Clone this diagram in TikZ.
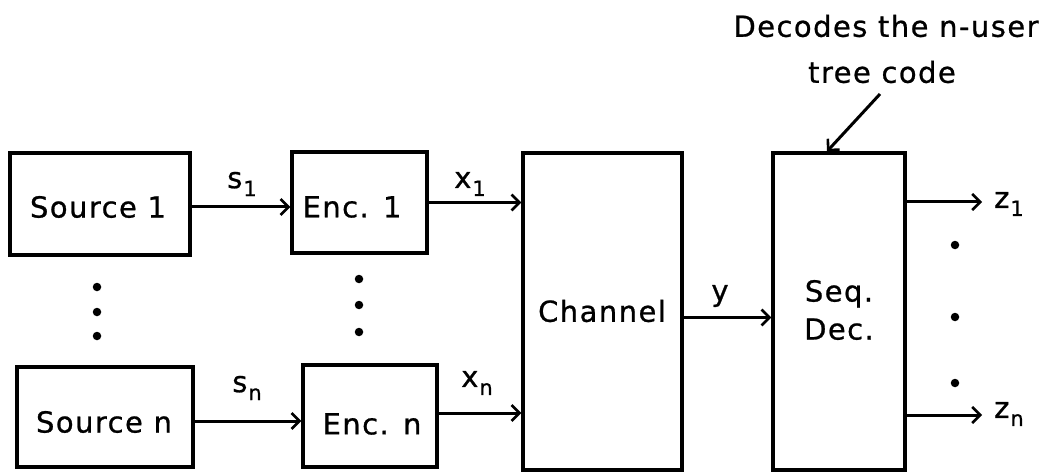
\documentclass[tikz,border=0pt]{standalone}
\usepackage{fontspec}
\setmainfont[LetterSpace=5,FakeBold=0.8]{DejaVu Sans}
\usetikzlibrary{arrows.meta}
\newcommand{\sbs}[1]{\hspace{1pt}\raisebox{-8pt}{\fontsize{21}{21}\selectfont #1}}
\begin{document}
\begin{tikzpicture}[x=1pt,y=-1pt,
  every node/.style={font=\fontsize{29}{32}\selectfont},
  blk/.style={draw, line width=3.2pt, inner sep=0pt},
  conn/.style={line width=3pt, -{Straight Barb[length=8pt,width=16pt,line width=2.6pt]}},
  lbl/.style={inner sep=0pt},
  dotm/.style={circle, fill, inner sep=0pt, minimum size=8.5pt}]
\useasboundingbox (0,0) rectangle (1044,473);
% blocks
\node[blk, minimum width=180pt, minimum height=102pt] (s1) at (100,204) {};
\node at (98,207) {Source 1};
\node[blk, minimum width=176pt, minimum height=100pt] (sn) at (105,417) {};
\node at (104,422) {Source n};
\node[blk, minimum width=135pt, minimum height=101pt] (e1) at (359.5,202.5) {};
\node at (352,207) {Enc. 1};
\node[blk, minimum width=134pt, minimum height=102pt] (en) at (370,416) {};
\node at (372,424) {Enc. n};
\node[blk, minimum width=159pt, minimum height=317pt] (ch) at (602.5,311.5) {};
\node at (602,311) {Channel};
\node[blk, minimum width=132pt, minimum height=317pt] (sd) at (839,311.5) {};
\node[align=center] at (839,310) {Seq.\\[6pt]Dec.};
% dots
\node[dotm] (d1) at (97,287) {};
\node[dotm] (d2) at (97,312) {};
\node[dotm] (d3) at (97,336) {};
\node[dotm] (d4) at (359,279) {};
\node[dotm] (d5) at (359,305) {};
\node[dotm] (d6) at (359,332) {};
\node[dotm] (d7) at (955,245) {};
\node[dotm] (d8) at (955,317) {};
\node[dotm] (d9) at (955,383) {};
% connectors
\draw[conn] ([yshift=-3pt]s1.east) -- ([yshift=-3pt]s1.east -| e1.west);
\draw[conn] ([yshift=-4pt]sn.east) -- ([yshift=-4pt]sn.east -| en.west);
\draw[conn] (e1.east) -- (e1.east -| ch.west);
\draw[conn] ([yshift=3pt]en.east) -- ([yshift=3pt]en.east -| ch.west);
\draw[conn] ([yshift=-6pt]ch.east) -- ([yshift=-6pt]ch.east -| sd.west);
\coordinate (z1e) at (982,202);
\coordinate (zne) at (982,415);
\draw[conn] (sd.east |- z1e) -- (z1e);
\draw[conn] (sd.east |- zne) -- (zne);
% labels
\node[lbl] (ls1) at (242,184) {s\sbs{1}};
\node[lbl] (lsn) at (247,388) {s\sbs{n}};
\node[lbl] (lx1) at (470,184) {x\sbs{1}};
\node[lbl] (lxn) at (477,383) {x\sbs{n}};
\node[lbl] (ly) at (720,296) {y};
\node[lbl, anchor=west] (lz1) at (994,204) {z\sbs{1}};
\node[lbl, anchor=west] (lzn) at (994,414) {z\sbs{n}};
% annotation
\node[lbl] (ann1) at (886,26) {Decodes the n-user};
\node[lbl] (ann2) at (882,72) {tree code};
\coordinate (annst) at (880,94);
\draw[conn] (annst) -- ([xshift=-12pt]sd.north);
\end{tikzpicture}
\end{document}
